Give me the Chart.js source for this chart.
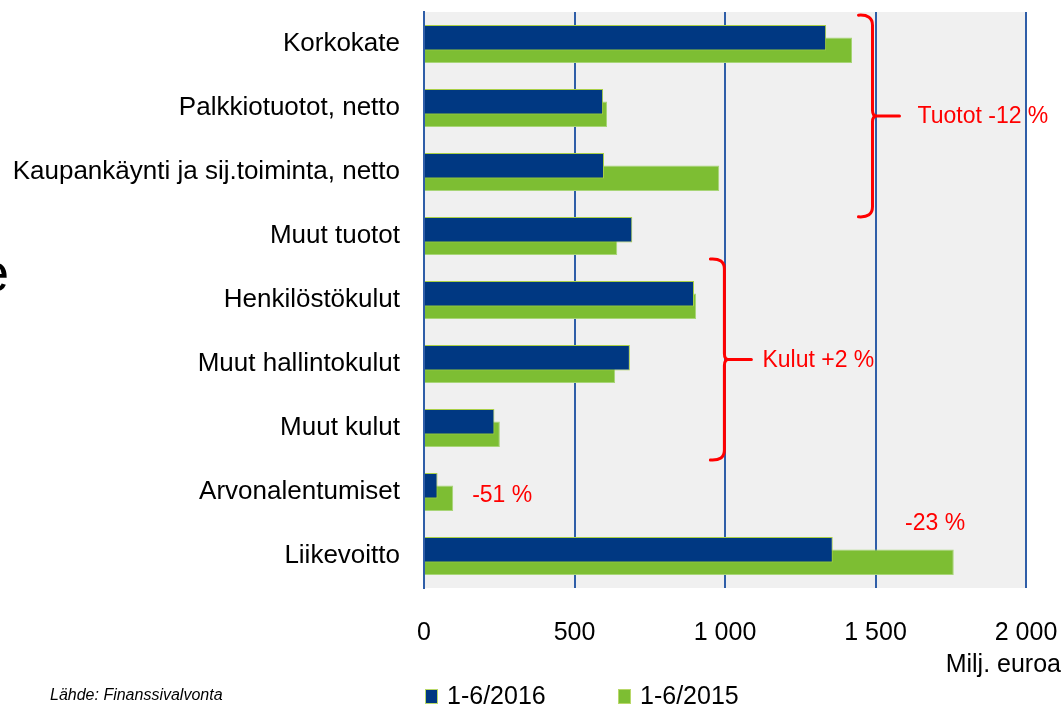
<!DOCTYPE html>
<html lang="fi">
<head>
<meta charset="utf-8">
<title>Tuotot ja kulut 1-6/2016</title>
<script src="https://cdn.jsdelivr.net/npm/chart.js@4.4.1/dist/chart.umd.min.js"></script>
<style>
    html, body { margin: 0; padding: 0; background: #ffffff; }
    #wrap { position: relative; width: 1063px; height: 709px; }
</style>
</head>
<body>
<div id="wrap"><canvas id="chart"></canvas></div>
<script>
// Arvot, milj. euroa
const categories = [
    'Korkokate',
    'Palkkiotuotot, netto',
    'Kaupankäynti ja sij.toiminta, netto',
    'Muut tuotot',
    'Henkilöstökulut',
    'Muut hallintokulut',
    'Muut kulut',
    'Arvonalentumiset',
    'Liikevoitto'
];
const values2016 = [1336, 595, 598, 692, 897, 684, 234, 45, 1358];
const values2015 = [1422, 608, 981, 642, 904, 635, 252, 97, 1760];
const seriesLabels = ['1-6/2016', '1-6/2015'];
const xTicks = [0, 500, 1000, 1500, 2000];
const groupNotes = ['Tuotot -12 %', 'Kulut +2 %'];
const barNotes = ['-51 %', '-23 %'];
const unitLabel = 'Milj. euroa';
const sourceLabel = 'Lähde: Finanssivalvonta';

const FONT = '"Liberation Sans", Arial, sans-serif';
const BLUE = '#003882';
const GREEN = '#7dbe33';
const GRID = '#2f5ea8';
const RED = '#ff0000';

// merkintöjen sijainnit (x = milj. euroa, y = kategorian indeksi)
const braces = [
    { text: groupNotes[0], x: 1490, from: -0.45, to: 2.7, gap: 45 },
    { text: groupNotes[1], x: 998, from: 3.36, to: 6.5, gap: 38 }
];
const notes = [
    { text: barNotes[0], x: 160, y: 7.05 },
    { text: barNotes[1], x: 1598, y: 7.5 }
];

function fmtThousands(v) {
    return String(v).replace(/\B(?=(\d{3})+(?!\d))/g, ' ');
}

const plotBackground = {
    id: 'plotBackground',
    beforeDraw(chart) {
        const a = chart.chartArea;
        const ctx = chart.ctx;
        ctx.save();
        ctx.fillStyle = '#f0f0f0';
        ctx.fillRect(a.left, a.top, a.right - a.left, a.bottom - a.top);
        ctx.restore();
    }
};

const extras = {
    id: 'extras',
    afterDatasetsDraw(chart) {
        const ctx = chart.ctx;
        const xs = chart.scales.x;
        const ys = chart.scales.y;
        ctx.save();

        // aaltosulkeet
        ctx.strokeStyle = RED;
        ctx.lineWidth = 3;
        ctx.lineCap = 'round';
        ctx.lineJoin = 'round';
        braces.forEach(b => {
            const x = xs.getPixelForValue(b.x);
            const top = ys.getPixelForValue(b.from);
            const bottom = ys.getPixelForValue(b.to);
            const mid = (top + bottom) / 2;
            ctx.beginPath();
            ctx.moveTo(x - 14, top);
            ctx.quadraticCurveTo(x, top - 1, x, top + 10);
            ctx.lineTo(x, mid - 6);
            ctx.quadraticCurveTo(x, mid, x + 4, mid);
            ctx.quadraticCurveTo(x, mid, x, mid + 6);
            ctx.lineTo(x, bottom - 10);
            ctx.quadraticCurveTo(x, bottom + 1, x - 14, bottom);
            ctx.moveTo(x + 3, mid);
            ctx.lineTo(x + 27, mid);
            ctx.stroke();

            ctx.fillStyle = RED;
            ctx.font = '23px ' + FONT;
            ctx.textAlign = 'left';
            ctx.textBaseline = 'middle';
            ctx.fillText(b.text, x + b.gap, mid + 1);
        });

        notes.forEach(n => {
            ctx.fillStyle = RED;
            ctx.font = '23px ' + FONT;
            ctx.textAlign = 'left';
            ctx.textBaseline = 'middle';
            ctx.fillText(n.text, xs.getPixelForValue(n.x), ys.getPixelForValue(n.y));
        });
        ctx.restore();
    },
    afterDraw(chart) {
        const ctx = chart.ctx;
        ctx.save();
        ctx.fillStyle = '#000000';

        // yksikkö
        ctx.font = '25px ' + FONT;
        ctx.textAlign = 'right';
        ctx.textBaseline = 'middle';
        ctx.fillText(unitLabel, 1061, 665);

        // lähde
        ctx.font = 'italic 16px ' + FONT;
        ctx.textAlign = 'left';
        ctx.fillText(sourceLabel, 50, 696);

        // selite
        const legendX = [425, 618];
        chart.data.datasets.forEach((ds, i) => {
            ctx.fillStyle = ds.backgroundColor;
            ctx.fillRect(legendX[i], 689, 13, 15);
            ctx.strokeStyle = '#b9d86a';
            ctx.lineWidth = 1;
            ctx.strokeRect(legendX[i] + 0.5, 689.5, 12, 14);
            ctx.fillStyle = '#000000';
            ctx.font = '25px ' + FONT;
            ctx.textAlign = 'left';
            ctx.fillText(ds.label, legendX[i] + 22, 697);
        });

        // reunaan leikkautunut kirjain
        ctx.font = '54px ' + FONT;
        ctx.textBaseline = 'alphabetic';
        ctx.fillText('e', -21, 291);
        ctx.restore();
    }
};

const ctx = document.getElementById('chart').getContext('2d');
new Chart(ctx, {
    type: 'bar',
    data: {
        labels: categories,
        datasets: [
            {
                label: seriesLabels[0],
                data: values2016,
                backgroundColor: BLUE,
                borderColor: '#a9cf45',
                borderWidth: 1
            },
            {
                label: seriesLabels[1],
                data: values2015,
                backgroundColor: GREEN,
                borderColor: '#a8d577',
                borderWidth: 1
            }
        ]
    },
    options: {
        indexAxis: 'y',
        responsive: true,
        maintainAspectRatio: false,
        animation: false,
        categoryPercentage: 0.39,
        barPercentage: 2.05,
        layout: {
            padding: { top: 12, right: 37, bottom: 0, left: 0 }
        },
        plugins: {
            legend: { display: false },
            tooltip: { enabled: false }
        },
        scales: {
            x: {
                min: 0,
                max: 2000,
                afterBuildTicks: s => { s.ticks = xTicks.map(v => ({ value: v })); },
                afterFit: s => {
                    s.height = 121;
                    s.paddingLeft = 0;
                    s.paddingRight = 0;
                },
                grid: {
                    color: GRID,
                    lineWidth: 2,
                    drawTicks: false
                },
                border: { display: false },
                ticks: {
                    color: '#000000',
                    font: { family: FONT, size: 25 },
                    padding: 30,
                    maxRotation: 0,
                    callback: v => fmtThousands(v)
                }
            },
            y: {
                afterFit: s => {
                    s.width = 424;
                    s.paddingTop = 0;
                    s.paddingBottom = 0;
                },
                grid: { display: false, drawTicks: false },
                border: { display: true, color: GRID, width: 2 },
                ticks: {
                    color: '#000000',
                    font: { family: FONT, size: 26 },
                    padding: 24,
                    autoSkip: false
                }
            }
        }
    },
    plugins: [plotBackground, extras]
});
</script>
</body>
</html>
